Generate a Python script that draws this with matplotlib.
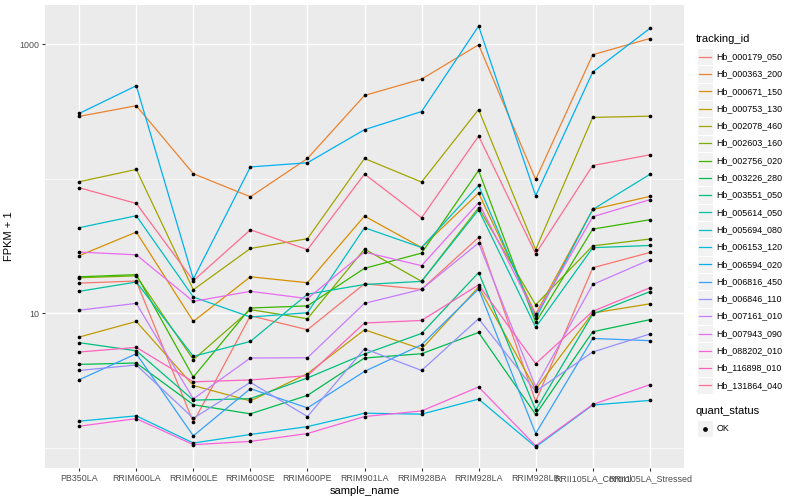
import matplotlib
matplotlib.use("Agg")
import matplotlib.pyplot as plt
from matplotlib.patches import Rectangle
from matplotlib.lines import Line2D

plt.rcParams['font.family'] = ['Liberation Sans', 'DejaVu Sans']

samples = ["PB350LA", "RRIM600LA", "RRIM600LE", "RRIM600SE", "RRIM600PE",
           "RRIM901LA", "RRIM928BA", "RRIM928LA", "RRIM928LB",
           "RRII105LA_Control", "RRII105LA_Stressed"]

tracking_ids = ["Hb_000179_050", "Hb_000363_200", "Hb_000671_150", "Hb_000753_130",
                "Hb_002078_460", "Hb_002603_160", "Hb_002756_020", "Hb_003226_280",
                "Hb_003551_050", "Hb_005614_050", "Hb_005694_080", "Hb_006153_120",
                "Hb_006594_020", "Hb_006816_450", "Hb_006846_110", "Hb_007161_010",
                "Hb_007943_090", "Hb_088202_010", "Hb_116898_010", "Hb_131864_040"]

Hb_000179_050 = [16.7, 17.3, 1.54, 9.55, 7.51, 16.5, 15.0, 36.5, 2.20, 21.7, 28.2]
Hb_000363_200 = [290, 348, 108.6, 73.2, 141, 415, 549, 988, 98.5, 833, 1100]
Hb_000671_150 = [26.7, 40.0, 8.66, 18.6, 16.8, 52.6, 30.7, 78.0, 9.83, 58.9, 73.6]
Hb_000753_130 = [6.63, 8.66, 2.89, 2.22, 3.54, 7.51, 5.40, 15.6, 2.71, 10.0, 11.7]
Hb_002078_460 = [94.7, 116.9, 14.9, 30.2, 35.7, 141, 94.2, 326, 29.6, 285, 291]
Hb_002603_160 = [18.3, 18.9, 4.50, 10.6, 9.07, 29.9, 17.2, 60.7, 11.5, 31.6, 35.5]
Hb_002756_020 = [18.6, 19.3, 3.34, 10.9, 11.3, 21.5, 27.9, 114.9, 8.51, 42.1, 49.4]
Hb_003226_280 = [4.15, 4.25, 2.08, 1.78, 2.44, 4.63, 4.98, 7.17, 1.76, 7.26, 8.92]
Hb_003551_050 = [6.02, 5.24, 2.25, 2.31, 3.29, 4.96, 7.05, 20.0, 1.90, 9.83, 14.4]
Hb_005614_050 = [14.5, 17.0, 4.76, 6.15, 13.8, 16.3, 17.2, 58.6, 7.84, 30.6, 31.8]
Hb_005694_080 = [43.1, 52.9, 13.15, 9.34, 10.05, 43.1, 30.7, 88.9, 9.12, 58.9, 107.3]
Hb_006153_120 = [1.57, 1.72, 1.08, 1.25, 1.43, 1.80, 1.77, 2.29, 1.01, 2.07, 2.24]
Hb_006594_020 = [305, 490, 17.9, 122, 131, 231, 315, 1361, 74.5, 619, 1306]
Hb_006816_450 = [3.19, 4.98, 1.22, 2.74, 1.97, 3.68, 5.81, 15.1, 1.27, 6.47, 6.23]
Hb_006846_110 = [3.74, 4.11, 1.65, 3.05, 1.70, 5.43, 3.74, 9.07, 2.62, 5.13, 6.98]
Hb_007161_010 = [10.5, 11.8, 2.30, 4.63, 4.65, 11.8, 15.0, 33.2, 2.82, 16.3, 24.9]
Hb_007943_090 = [28.4, 27.1, 12.2, 14.5, 12.8, 28.4, 22.5, 66.1, 9.60, 52.0, 69.6]
Hb_088202_010 = [1.44, 1.64, 1.05, 1.11, 1.27, 1.70, 1.87, 2.82, 1.03, 2.09, 2.93]
Hb_116898_010 = [5.13, 5.55, 3.08, 3.18, 3.42, 8.43, 8.81, 16.2, 4.20, 10.3, 15.4]
Hb_131864_040 = [85.4, 65.3, 17.4, 41.6, 29.6, 108, 51.1, 207, 27.6, 125, 150]

series = [Hb_000179_050, Hb_000363_200, Hb_000671_150, Hb_000753_130, Hb_002078_460,
          Hb_002603_160, Hb_002756_020, Hb_003226_280, Hb_003551_050, Hb_005614_050,
          Hb_005694_080, Hb_006153_120, Hb_006594_020, Hb_006816_450, Hb_006846_110,
          Hb_007161_010, Hb_007943_090, Hb_088202_010, Hb_116898_010, Hb_131864_040]

colors = ["#F8766D", "#EA8331", "#D89000", "#C09B00", "#A3A500", "#7CAE00", "#39B600",
          "#00BB4E", "#00BF7D", "#00C1A3", "#00BFC4", "#00BAE0", "#00B0F6", "#35A2FF",
          "#9590FF", "#C77CFF", "#E76BF3", "#FA62DB", "#FF62BC", "#FF6C91"]

W, H = 800, 500
fig = plt.figure(figsize=(8, 5), dpi=100)
L, R, T, B = 45, 684, 5, 468.3
ax = fig.add_axes([L / W, 1 - B / H, (R - L) / W, (B - T) / H])
ax.set_facecolor("#EBEBEB")
for s in ax.spines.values():
    s.set_visible(False)

x = list(range(len(samples)))
for vals, c in zip(series, colors):
    ax.plot(x, vals, color=c, lw=0.9, zorder=3, solid_capstyle='butt')
for vals in series:
    ax.scatter(x, vals, s=7, color="black", zorder=4, linewidths=0)

ax.set_yscale("log")
ax.set_ylim(10 ** -0.1546, 10 ** 3.2906)
ax.set_xlim(-0.6, len(samples) - 1 + 0.6)

ax.set_yticks([10, 1000])
ax.set_yticklabels(["10", "1000"])
ax.set_yticks([1, 100], minor=True)
ax.yaxis.set_minor_formatter(matplotlib.ticker.NullFormatter())
ax.set_xticks(x)
ax.set_xticklabels(samples)

ax.grid(True, which="major", color="white", lw=1.0, zorder=0)
ax.grid(True, which="minor", axis="y", color="white", lw=0.5, zorder=0)
ax.set_axisbelow(True)
ax.tick_params(axis="both", which="major", length=2.5, width=0.8, color="#333333",
               labelsize=6.4, labelcolor="#4D4D4D", pad=1.5)
ax.tick_params(axis="y", which="minor", length=0)

ax.set_xlabel("sample_name", fontsize=8, labelpad=2)
ax.set_ylabel("FPKM + 1", fontsize=8, labelpad=4)

def fx(px):
    return px / W

def fy(py):
    return 1 - py / H

# legend: tracking_id
fig.text(fx(696), fy(39), "tracking_id", fontsize=8, va="center", ha="left")
key_w, key_h = 16.5, 17.3
for i, (name, c) in enumerate(zip(tracking_ids, colors)):
    cy = 56.7 + i * 17.3
    fig.add_artist(Rectangle((fx(696.5), fy(cy + key_h / 2)), key_w / W, key_h / H,
                             transform=fig.transFigure, facecolor="#F2F2F2",
                             edgecolor="white", lw=0.8))
    fig.add_artist(Line2D([fx(698.5), fx(711)], [fy(cy), fy(cy)], transform=fig.transFigure,
                          color=c, lw=0.9))
    fig.text(fx(716.5), fy(cy), name, fontsize=6.4, va="center", ha="left")

fig.text(fx(696), fy(411), "quant_status", fontsize=8, va="center", ha="left")
cy = 428.5
fig.add_artist(Rectangle((fx(696.5), fy(cy + key_h / 2)), key_w / W, key_h / H,
                         transform=fig.transFigure, facecolor="#F2F2F2",
                         edgecolor="white", lw=0.8))
fig.add_artist(Line2D([fx(704.7)], [fy(cy)], transform=fig.transFigure, marker="o",
                      markersize=2.4, color="black", lw=0))
fig.text(fx(716.5), fy(cy), "OK", fontsize=6.4, va="center", ha="left")

fig.savefig("out.png", dpi=100)
